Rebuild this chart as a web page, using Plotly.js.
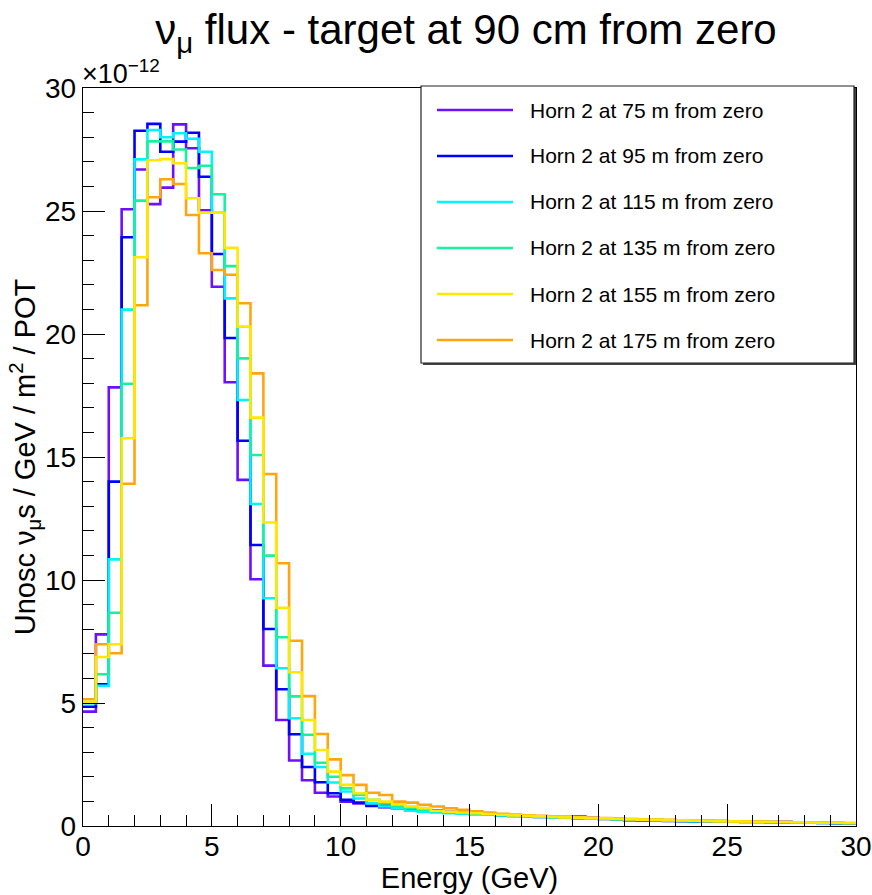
<!DOCTYPE html>
<html>
<head>
<meta charset="utf-8">
<script src="https://cdn.plot.ly/plotly-3.0.1.min.js"></script>
<style>html,body{margin:0;padding:0;background:#fff;}#chart{width:872px;height:895px;}</style>
</head>
<body>
<div id="chart"></div>
<script>
// Bin edges (GeV), 0.5 GeV bins
const binEdges = [0,0.5,1,1.5,2,2.5,3,3.5,4,4.5,5,5.5,6,6.5,7,7.5,8,8.5,9,9.5,10,10.5,11,11.5,12,12.5,13,13.5,14,14.5,15,15.5,16,16.5,17,17.5,18,18.5,19,19.5,20,20.5,21,21.5,22,22.5,23,23.5,24,24.5,25,25.5,26,26.5,27,27.5,28,28.5,29,29.5,30];

// Flux per bin (units of 1e-12)
const horn75 = [4.65,7.79,17.83,25.07,26.69,25.28,25.95,28.52,27.55,25.03,21.92,18.04,14.07,10.03,6.52,4.31,2.66,1.86,1.35,1.20,0.99,0.92,0.89,0.86,0.79,0.72,0.68,0.64,
  0.58,0.55,0.52,0.50,0.45,0.42,0.40,0.38,0.37,0.36,0.38,0.33,0.30,0.29,0.27,0.26,0.24,0.23,0.22,0.21,0.21,0.20,0.19,0.18,0.17,0.16,0.17,0.15,0.14,0.13,0.12,0.11];
const horn95 = [4.85,5.76,14.00,23.93,28.26,28.54,27.41,27.82,28.18,26.39,23.25,19.84,15.66,11.42,8.01,5.56,3.73,2.40,1.78,1.33,1.06,0.95,0.81,0.76,0.72,0.68,0.62,0.58,
  0.55,0.52,0.49,0.47,0.44,0.41,0.39,0.37,0.36,0.34,0.32,0.31,0.29,0.27,0.24,0.23,0.22,0.21,0.20,0.19,0.19,0.18,0.17,0.16,0.16,0.15,0.14,0.14,0.13,0.12,0.11,0.10];
const horn115 = [4.99,5.70,10.84,20.99,27.10,28.29,28.00,28.16,27.94,27.41,24.93,21.45,17.32,13.09,9.26,6.41,4.38,2.94,2.40,1.77,1.40,1.12,0.92,0.79,0.72,0.62,0.58,0.55,
  0.52,0.50,0.48,0.46,0.43,0.41,0.39,0.37,0.35,0.34,0.32,0.31,0.30,0.28,0.27,0.25,0.24,0.22,0.21,0.20,0.20,0.19,0.18,0.17,0.16,0.15,0.15,0.14,0.13,0.12,0.12,0.11];
const horn135 = [5.00,6.17,8.67,17.98,25.42,27.83,27.83,27.50,26.75,26.84,25.68,22.76,19.01,15.08,10.99,7.67,5.27,3.71,2.57,2.00,1.53,1.26,1.06,0.92,0.79,0.72,0.66,0.60,
  0.56,0.53,0.50,0.47,0.45,0.42,0.40,0.38,0.36,0.35,0.33,0.31,0.30,0.28,0.27,0.26,0.24,0.23,0.22,0.21,0.20,0.19,0.18,0.17,0.17,0.16,0.15,0.14,0.13,0.13,0.12,0.11];
const horn155 = [5.05,6.87,7.39,15.76,23.12,27.06,27.11,26.94,25.52,24.93,24.93,23.50,20.30,16.60,12.34,8.87,6.25,4.31,3.09,2.21,1.67,1.33,1.06,0.99,0.88,0.79,0.72,0.62,
  0.58,0.55,0.52,0.49,0.46,0.43,0.41,0.39,0.37,0.35,0.34,0.32,0.31,0.29,0.28,0.26,0.25,0.24,0.23,0.22,0.21,0.20,0.19,0.18,0.17,0.16,0.16,0.15,0.14,0.13,0.13,0.12];
const horn175 = [5.15,7.39,7.02,13.91,21.17,25.56,26.29,26.10,24.84,23.28,22.60,22.41,21.25,18.40,14.31,10.68,7.53,5.28,3.74,2.71,2.07,1.67,1.35,1.26,0.99,0.95,0.86,0.79,
  0.72,0.66,0.60,0.55,0.50,0.47,0.44,0.41,0.39,0.37,0.35,0.33,0.32,0.30,0.28,0.27,0.26,0.25,0.23,0.22,0.21,0.20,0.19,0.19,0.18,0.17,0.16,0.15,0.14,0.14,0.13,0.12];

const seriesNames = ["Horn 2 at 75 m from zero","Horn 2 at 95 m from zero","Horn 2 at 115 m from zero","Horn 2 at 135 m from zero","Horn 2 at 155 m from zero","Horn 2 at 175 m from zero"];
const seriesValues = [horn75, horn95, horn115, horn135, horn155, horn175];
const seriesColors = ["#6c10ff","#0000ff","#00f4ff","#18f2a0","#ffe800","#ffa510"];
const drawOrder = [0,1,2,3,5,4];

const FONT = "Liberation Sans, Arial, Helvetica, sans-serif";

const traces = drawOrder.map(i => {
  const v = seriesValues[i];
  return {
    type: "scatter", mode: "lines",
    x: binEdges,
    y: v.concat([v[v.length-1]]),
    line: {shape: "hv", color: seriesColors[i], width: 2.6},
    name: seriesNames[i],
    showlegend: false,
    hoverinfo: "skip"
  };
});

// plot area in pixels
const L = 83, R = 856, T = 88, B = 826, W = 872, H = 895;
const px2x = p => (p - L) / (R - L);
const px2y = p => (B - p) / (B - T);

const shapes = [];
const annotations = [];
// legend shadow + box
shapes.push({type:"rect", xref:"paper", yref:"paper", x0:px2x(423), x1:px2x(856), y0:px2y(365), y1:px2y(88), line:{width:0}, fillcolor:"#444", layer:"above"});
shapes.push({type:"rect", xref:"paper", yref:"paper", x0:px2x(421), x1:px2x(854), y0:px2y(363), y1:px2y(86), line:{width:1.2, color:"#222"}, fillcolor:"#fff", layer:"above"});
seriesNames.forEach((nm, i) => {
  const yy = 110 + 46 * i;
  shapes.push({type:"line", xref:"paper", yref:"paper", x0:px2x(437), x1:px2x(513), y0:px2y(yy), y1:px2y(yy), line:{color:seriesColors[i], width:2.6}, layer:"above"});
  annotations.push({xref:"paper", yref:"paper", x:px2x(528), y:px2y(yy), xanchor:"left", yanchor:"middle", text:nm, showarrow:false, font:{family:FONT, size:21, color:"#000"}});
});
annotations.push({xref:"paper", yref:"paper", x:0, y:1, xanchor:"left", yanchor:"bottom", yshift:-3, xshift:-3, text:"×10<sup>−12</sup>", showarrow:false, font:{family:FONT, size:27, color:"#000"}});

const layout = {
  width: W, height: H,
  margin: {l: L, r: W - R, t: T, b: H - B, pad: 0},
  paper_bgcolor: "#fff", plot_bgcolor: "#fff",
  font: {family: FONT, color: "#000"},
  title: {text: "ν<sub>μ</sub> flux - target at 90 cm from zero", font: {family: FONT, size: 42, color:"#000"}, x: 466/W, xanchor: "center", xref: "container", yref: "container", y: 1 - 29/H, yanchor: "middle"},
  showlegend: false,
  xaxis: {
    range: [0, 30], tickmode: "linear", tick0: 0, dtick: 5,
    ticks: "inside", ticklen: 22, tickwidth: 1, tickcolor: "#000",
    minor: {dtick: 1, ticklen: 11, ticks: "inside", tickwidth: 1, tickcolor: "#000"},
    showline: true, linecolor: "#000", linewidth: 1.2, mirror: true,
    showgrid: false, zeroline: false,
    ticklabelstandoff: -5,
    tickfont: {family: FONT, size: 28, color: "#000"},
    title: {text: "Energy (GeV)", font: {family: FONT, size: 29, color: "#000"}, standoff: 4},
    automargin: false
  },
  yaxis: {
    range: [0, 30], tickmode: "linear", tick0: 0, dtick: 5,
    ticks: "inside", ticklen: 22, tickwidth: 1, tickcolor: "#000",
    minor: {dtick: 1, ticklen: 11, ticks: "inside", tickwidth: 1, tickcolor: "#000"},
    showline: true, linecolor: "#000", linewidth: 1.2, mirror: true,
    showgrid: false, zeroline: false,
    tickfont: {family: FONT, size: 28, color: "#000"},
    title: {text: "Unosc ν<sub>μ</sub>s / GeV / m<sup>2</sup> / POT", font: {family: FONT, size: 29, color: "#000"}, standoff: 0},
    automargin: false
  },
  shapes: shapes,
  annotations: annotations
};

Plotly.newPlot("chart", traces, layout, {displayModeBar: false, staticPlot: true});
</script>
</body>
</html>
